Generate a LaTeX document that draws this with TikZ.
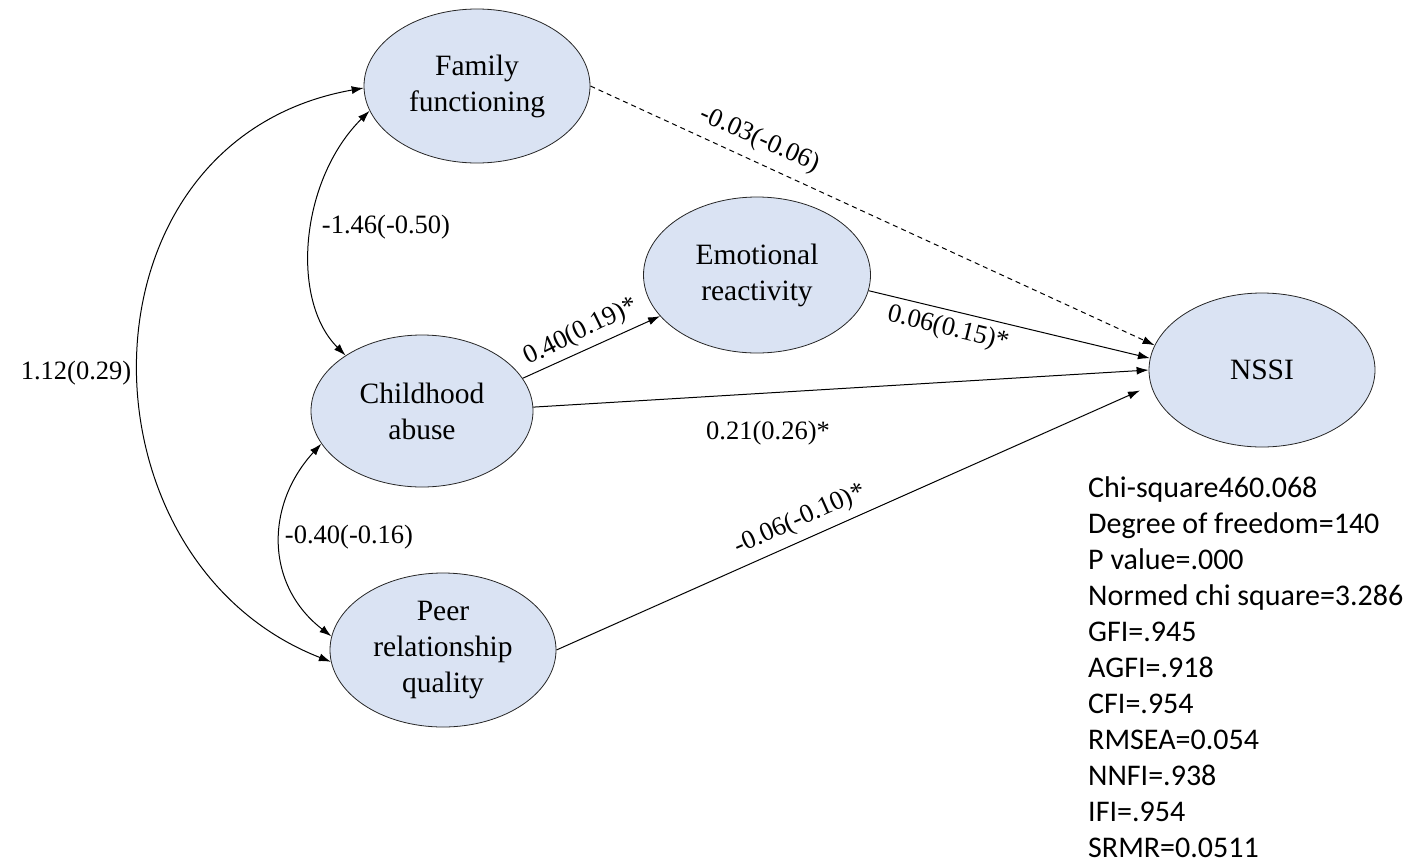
\documentclass[tikz,border=0pt]{standalone}
\usepackage{fontspec}
\setmainfont{Liberation Serif}
\newfontfamily\statfont{Carlito}
\usetikzlibrary{shapes.geometric,arrows.meta}
\definecolor{ellfill}{RGB}{218,227,243}
\begin{document}
\begin{tikzpicture}[x=1pt,y=-1pt,
  latent/.style={ellipse, draw=black!85, line width=0.8pt, fill=ellfill, minimum width=226pt, minimum height=154pt, inner sep=0pt, align=center, font=\fontsize{29.5}{36}\selectfont},
  arr/.style={line width=1pt, -{Latex[length=12pt,width=8pt]}},
  covarr/.style={line width=1pt, {Latex[length=12pt,width=8pt]}-{Latex[length=12pt,width=8pt]}},
  lbl/.style={font=\fontsize{26.5}{30}\selectfont, inner sep=0pt}]
\useasboundingbox (0,0) rectangle (1416,865);
% latent variables
\node[latent] (FF) at (477,86) {Family\\functioning};
\node[latent, minimum width=227pt, minimum height=156pt] (ER) at (757,275) {Emotional\\reactivity};
\node[latent, minimum width=222pt, minimum height=152pt] (CA) at (422,411) {Childhood\\abuse};
\node[latent] (PQ) at (443,650) {Peer\\relationship\\quality};
\node[latent] (NS) at (1262,370) {NSSI};
% paths
\draw[arr, dash pattern=on 5pt off 4pt] (FF.east) -- (NS.167);
\draw[arr] (ER.-8) -- (NS.174);
\draw[arr] (CA.2) -- (NS.180);
\draw[arr, shorten >=12pt] (PQ.east) -- (NS.188);
\draw[arr] (CA.18) -- (ER.203);
% covariances
\draw[covarr] (FF.181) .. controls (70,140) and (70,560) .. (PQ.186);
\draw[covarr] (FF.193) .. controls (300,180) and (290,300) .. (CA.144);
\draw[covarr] (CA.198) .. controls (265,505) and (265,585) .. (PQ.173);
% labels
\node[lbl] (L1) at (76,373) {1.12(0.29)};
\node[lbl] (L2) at (386,227) {-1.46(-0.50)};
\node[lbl] (L3) at (349,537) {-0.40(-0.16)};
\node[lbl, rotate=-24] (L4) at (760,140) {-0.03(-0.06)};
\node[lbl, rotate=26] (L5) at (581,332) {0.40(0.19)*};
\node[lbl, rotate=-14] (L6) at (948,329) {0.06(0.15)*};
\node[lbl] (L7) at (768,433) {0.21(0.26)*};
\node[lbl, rotate=24] (L8) at (800,520) {-0.06(-0.10)*};
% fit statistics
\node[anchor=north west, align=left, inner sep=0pt, font=\statfont\fontsize{30}{36}\selectfont] (ST) at (1088,476) {Chi-square460.068\\Degree of freedom=140\\P value=.000\\Normed chi square=3.286\\GFI=.945\\AGFI=.918\\CFI=.954\\RMSEA=0.054\\NNFI=.938\\IFI=.954\\SRMR=0.0511};
\end{tikzpicture}
\end{document}
